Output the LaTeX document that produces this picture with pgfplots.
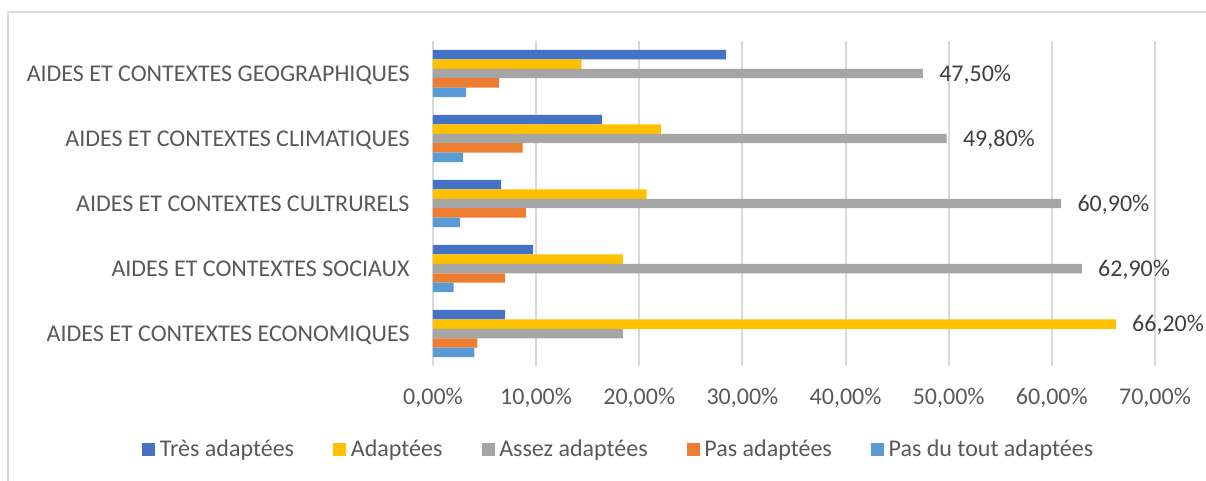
\documentclass[border=0pt]{standalone}
\usepackage{pgfplots}
\pgfplotsset{compat=1.18}
\usepackage{fontspec}
\setmainfont{Carlito}
\definecolor{cBlue}{HTML}{4472C4}
\definecolor{cYellow}{HTML}{FFC000}
\definecolor{cGray}{HTML}{A5A5A5}
\definecolor{cOrange}{HTML}{ED7D31}
\definecolor{cLight}{HTML}{5B9BD5}
\definecolor{gridc}{HTML}{D9D9D9}
\definecolor{lab}{HTML}{595959}
\definecolor{dlab}{HTML}{404040}
\newcommand{\cfont}{\fontsize{12bp}{14bp}\selectfont}
\begin{document}
\begin{tikzpicture}
\path[use as bounding box] (0bp,0bp) rectangle (603bp,-240.5bp);
\draw[gridc, line width=0.75bp] (4bp,-240.5bp) -- (4bp,-6bp) -- (603bp,-6bp);
\begin{axis}[
  at={(216.5bp,-20.5bp)}, anchor=north west,
  scale only axis, width=361bp, height=162.5bp,
  xbar, bar width=0.146,
  xmin=0, xmax=70, ymin=-0.5, ymax=4.5,
  clip=false,
  axis line style={draw=none},
  xmajorgrids, major grid style={gridc, line width=1bp},
  major tick length=0,
  xtick={0,10,...,70},
  xticklabels={{0,00\%},{10,00\%},{20,00\%},{30,00\%},{40,00\%},{50,00\%},{60,00\%},{70,00\%}},
  ytick={0,1,2,3,4},
  yticklabels={AIDES ET CONTEXTES ECONOMIQUES,AIDES ET CONTEXTES SOCIAUX,AIDES ET CONTEXTES CULTRURELS,AIDES ET CONTEXTES CLIMATIQUES,AIDES ET CONTEXTES GEOGRAPHIQUES},
  tick label style={font=\cfont, text=lab, inner sep=0pt},
  xticklabel style={anchor=base, yshift=-19.25bp},
  yticklabel style={anchor=base east, xshift=-11.5bp, yshift=-3.9bp},
  legend columns=5,
  legend style={at={(0.257,-0.258)}, anchor=center, draw=none, fill=none,
    font=\cfont, text=lab, inner sep=0pt,
    nodes={inner sep=0.75bp},
    /tikz/every even column/.append style={column sep=18.9bp}},
  legend image code/.code={\fill[#1] (0bp,-3.25bp) rectangle (6.5bp,3.25bp); \path (0bp,0bp) -- (8bp,0bp);},
  every node near coord/.append style={font=\cfont, text=dlab, anchor=base west, inner sep=0pt, xshift=8bp, yshift=-3.9bp},
]
\addplot[fill=cBlue, draw=none, bar shift=0.292] coordinates {(7.0,0) (9.7,1) (6.6,2) (16.4,3) (28.4,4)};
\addlegendentry{Très adaptées}
\addplot[fill=cYellow, draw=none, bar shift=0.146, nodes near coords, point meta=explicit symbolic] coordinates {(66.2,0) [66,20\%] (18.4,1) [] (20.7,2) [] (22.1,3) [] (14.4,4) []};
\addlegendentry{Adaptées}
\addplot[fill=cGray, draw=none, bar shift=0, nodes near coords, point meta=explicit symbolic] coordinates {(18.4,0) [] (62.9,1) [62,90\%] (60.9,2) [60,90\%] (49.8,3) [49,80\%] (47.5,4) [47,50\%]};
\addlegendentry{Assez adaptées}
\addplot[fill=cOrange, draw=none, bar shift=-0.146] coordinates {(4.3,0) (7.0,1) (9.0,2) (8.7,3) (6.4,4)};
\addlegendentry{Pas adaptées}
\addplot[fill=cLight, draw=none, bar shift=-0.292] coordinates {(4.0,0) (2.0,1) (2.6,2) (2.9,3) (3.2,4)};
\addlegendentry{Pas du tout adaptées}
\end{axis}
\end{tikzpicture}
\end{document}
